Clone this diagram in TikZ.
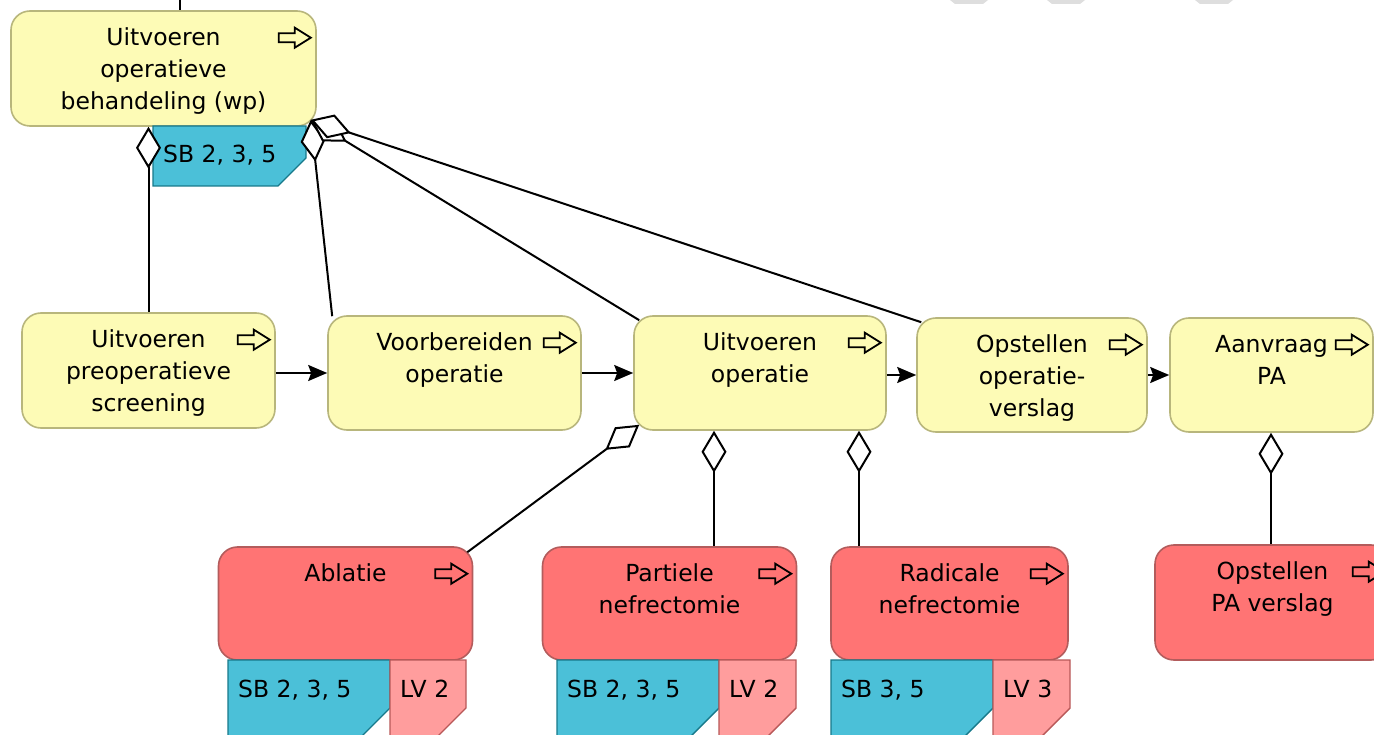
\documentclass[tikz,border=0pt]{standalone}
\usepackage{fontspec}
\setmainfont{DejaVu Sans}
\usetikzlibrary{arrows.meta}

\definecolor{actfill}{HTML}{FDFBB6}
\definecolor{actline}{HTML}{B8B67C}
\definecolor{subfill}{HTML}{FF7474}
\definecolor{subline}{HTML}{B35C5C}
\definecolor{sbfill}{HTML}{4BC0D8}
\definecolor{sbline}{HTML}{17798A}
\definecolor{lvfill}{HTML}{FF9D9D}
\definecolor{lvline}{HTML}{B85858}
\definecolor{faint}{HTML}{DEDEDE}

% tag with a cut lower-right corner: style, left x, top y, width, height
\newcommand\cuttag[5]{%
  \draw[#1] (#2,#3) -- ++(#4,0) -- ++(0,#5-28) -- ++(-28,28) -- ++(-#4+28,0) -- cycle;}

\begin{document}
\begin{tikzpicture}[x=1pt,y=-1pt,line join=round,
  boxbase/.style 2 args={draw,line width=1.6pt,rounded corners=19pt,inner sep=0pt,
    minimum width=#1,minimum height=#2},
  actbox/.style 2 args={boxbase={#1}{#2},fill=actfill,draw=actline},
  subbox/.style 2 args={boxbase={#1}{#2},fill=subfill,draw=subline},
  txt/.style={anchor=north,inner sep=0pt,align=center,font=\fontsize{23.5}{32}\selectfont},
  tagtxt/.style={anchor=base west,inner sep=0pt,font=\fontsize{23.5}{32}\selectfont},
  sbtag/.style={fill=sbfill,draw=sbline,line width=1.4pt,line join=miter},
  lvtag/.style={fill=lvfill,draw=lvline,line width=1.4pt,line join=miter},
  conn/.style={line width=2pt},
  part/.style={conn,-{Diamond[length=42pt,width=25pt,fill=white,line join=miter]}},
  flow/.style={conn,-{Stealth[length=19pt,width=16pt,inset=3pt]}},
  fwd/.pic={\draw[line width=1.8pt,line join=miter]
    (-16,-4.5) -- (0,-4.5) -- (0,-10) -- (16,0) -- (0,10) -- (0,4.5) -- (-16,4.5) -- cycle;}
]
\useasboundingbox (0,0) rectangle (1374,735);
\clip (0,0) rectangle (1374,735);

% faint shapes along the top edge
\fill[faint] (950,0) -- (988,0) -- (983,4) -- (955,4) -- cycle;
\fill[faint] (1047,0) -- (1085,0) -- (1080,4) -- (1052,4) -- cycle;
\fill[faint] (1195,0) -- (1233,0) -- (1228,4) -- (1200,4) -- cycle;

% process steps
\node[actbox={305pt}{115pt}] (top) at (163.5,68.5) {};
\node[actbox={253pt}{115pt}] (screen) at (148.5,370.5) {};
\node[actbox={253pt}{114pt}] (prep) at (454.5,373) {};
\node[actbox={252pt}{114pt}] (op) at (760,373) {};
\node[actbox={230pt}{114pt}] (versl) at (1032,375) {};
\node[actbox={203pt}{114pt}] (pa) at (1271.5,375) {};
\node[subbox={254pt}{113pt}] (abl) at (345.5,603.5) {};
\node[subbox={254pt}{113pt}] (partn) at (669.5,603.5) {};
\node[subbox={237pt}{113pt}] (radn) at (949.5,603.5) {};
\node[subbox={235pt}{115pt}] (pav) at (1272.5,602.5) {};

% labels
\node[txt] (top-t) at ([yshift=-17.5pt]top.north) {Uitvoeren\\operatieve\\behandeling (wp)};
\node[txt] (screen-t) at ([yshift=-17.5pt]screen.north) {Uitvoeren\\preoperatieve\\screening};
\node[txt] (prep-t) at ([yshift=-17.5pt]prep.north) {Voorbereiden\\operatie};
\node[txt] (op-t) at ([yshift=-17.5pt]op.north) {Uitvoeren\\operatie};
\node[txt] (versl-t) at ([yshift=-17.5pt]versl.north) {Opstellen\\operatie-\\verslag};
\node[txt] (pa-t) at ([yshift=-17.5pt]pa.north) {Aanvraag\\PA};
\node[txt] (abl-t) at ([yshift=-17.5pt]abl.north) {Ablatie};
\node[txt] (partn-t) at ([yshift=-17.5pt]partn.north) {Partiele\\nefrectomie};
\node[txt] (radn-t) at ([yshift=-17.5pt]radn.north) {Radicale\\nefrectomie};
\node[txt] (pav-t) at ([yshift=-17.5pt]pav.north) {Opstellen\\PA verslag};

% step icons
\foreach \b in {top,screen,prep,op,versl,pa,abl,partn,radn,pav}
  \pic at ([xshift=-22pt,yshift=-27.5pt]\b.north east) {fwd};

% reference tags
\cuttag{sbtag}{153}{126}{153}{60}
\node[tagtxt] (top-sb) at (163,163) {SB 2, 3, 5};
\cuttag{sbtag}{228}{660}{162}{76}
\cuttag{lvtag}{390}{660}{76}{76}
\node[tagtxt] (abl-sb) at (238,697) {SB 2, 3, 5};
\node[tagtxt] (abl-lv) at (400,697) {LV 2};
\cuttag{sbtag}{557}{660}{162}{76}
\cuttag{lvtag}{719}{660}{77}{76}
\node[tagtxt] (partn-sb) at (567,697) {SB 2, 3, 5};
\node[tagtxt] (partn-lv) at (729,697) {LV 2};
\cuttag{sbtag}{831}{660}{162}{76}
\cuttag{lvtag}{993}{660}{77}{76}
\node[tagtxt] (radn-sb) at (841,697) {SB 3, 5};
\node[tagtxt] (radn-lv) at (1003,697) {LV 3};

% connector leaving the top edge
\coordinate (up) at (180,0);
\draw[conn] (up) -- (up |- top.north);

% composition links
\coordinate (topcorner) at ([xshift=-6pt,yshift=7pt]top.south east);
\draw[part] (screen.north) -- (screen.north |- top.south);
\draw[part] ([xshift=5pt,yshift=-1pt]prep.north west) -- (topcorner);
\draw[part] ([xshift=6pt,yshift=-5pt]op.north west) -- (topcorner);
\draw[part] ([xshift=5pt,yshift=-5pt]versl.north west) -- (topcorner);
\draw[part] ([xshift=-6pt,yshift=-6pt]abl.north east) -- ([xshift=6pt,yshift=6pt]op.south west);
\draw[part] (partn.north -| 714,0) -- (op.south -| 714,0);
\draw[part] (radn.north -| 859,0) -- (op.south -| 859,0);
\draw[part] (pav.north -| 1271,0) -- (pa.south -| 1271,0);

% sequence flow
\draw[flow] (prep.west -| screen.east) -- (prep.west);
\draw[flow] (op.west -| prep.east) -- (op.west);
\draw[flow] (versl.west -| op.east) -- (versl.west);
\draw[flow] (pa.west -| versl.east) -- (pa.west);
\end{tikzpicture}
\end{document}
